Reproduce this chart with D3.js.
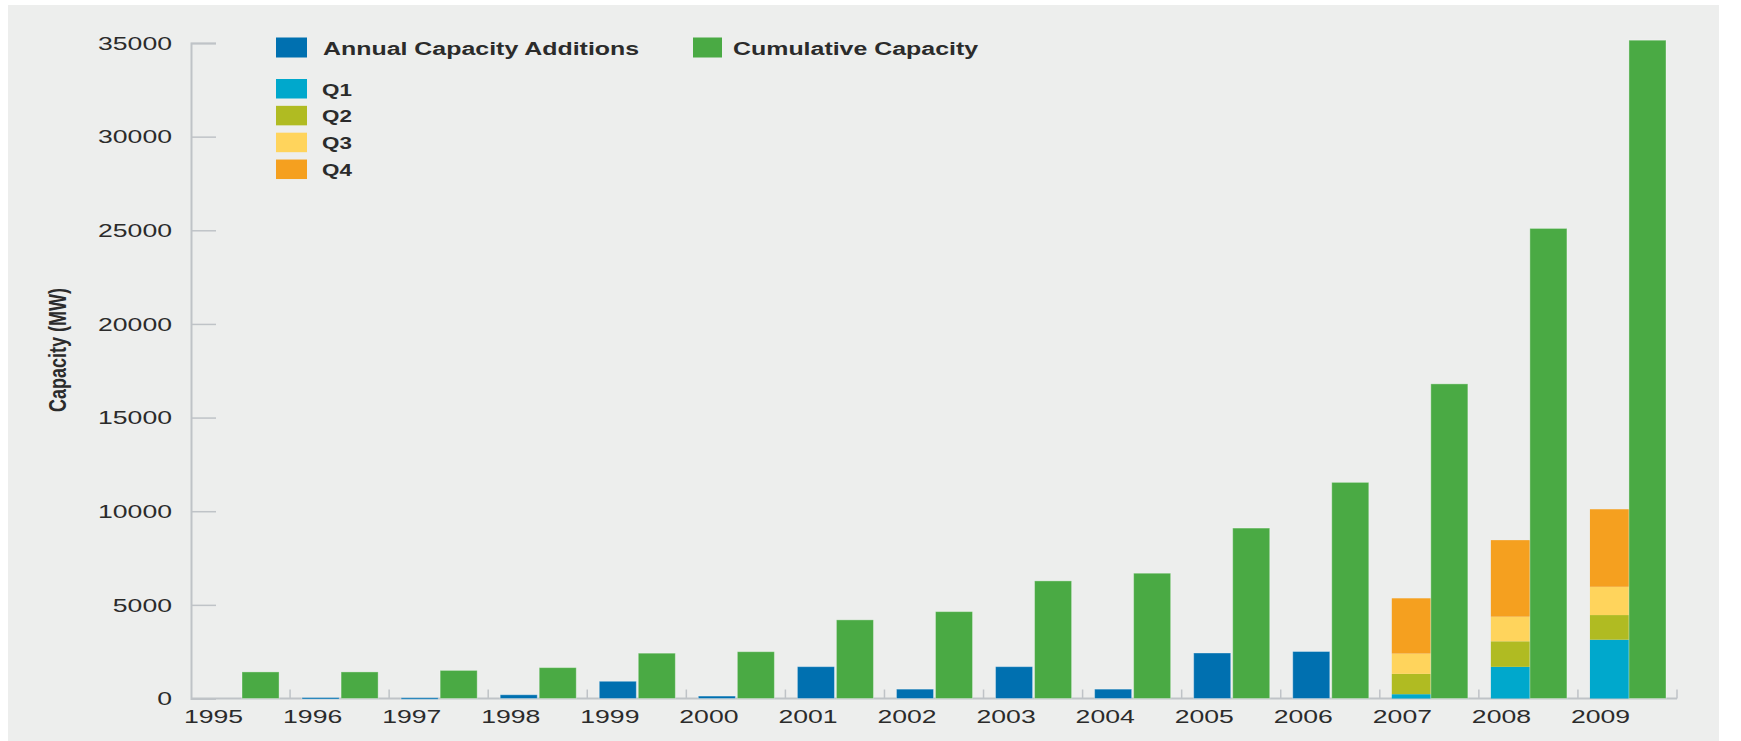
<!DOCTYPE html>
<html>
<head>
<meta charset="utf-8">
<script src="https://cdn.jsdelivr.net/npm/d3@7"></script>
<style>
  html, body { margin: 0; padding: 0; background: #ffffff; }
  svg { display: block; }
  text { font-family: "Liberation Sans", Arial, Helvetica, sans-serif; fill: #2b2b2b; }
</style>
</head>
<body>
<svg id="chart" width="1741" height="741"></svg>
<script>
// Installed wind capacity, MW
const years = ["1995","1996","1997","1998","1999","2000","2001","2002","2003","2004","2005","2006","2007","2008","2009"];
const cumulativeCapacity = [1420, 1420, 1500, 1650, 2420, 2500, 4200, 4640, 6280, 6690, 9100, 11540, 16800, 25100, 35150];
// Annual additions for years without a quarterly breakdown
const annualYears = ["1995","1996","1997","1998","1999","2000","2001","2002","2003","2004","2005","2006"];
const annualAdditions = [0, 50, 40, 200, 920, 130, 1700, 500, 1700, 500, 2430, 2510];
// Quarterly breakdown of additions
const quarterYears = ["2007","2008","2009"];
const quarterKeys = ["Q1","Q2","Q3","Q4"];
const q1 = [230, 1690, 3140];
const q2 = [1085, 1365, 1315];
const q3 = [1085, 1315, 1510];
const q4 = [2950, 4085, 4140];
const yTicks = [0, 5000, 10000, 15000, 20000, 25000, 30000, 35000];

const colors = {
  annual: "#0070b0",
  cumulative: "#4aaa44",
  Q1: "#00a8cc",
  Q2: "#b0bb22",
  Q3: "#ffd45c",
  Q4: "#f5a01f",
  axis: "#bfc3c7",
  panel: "#edeeed"
};

const svg = d3.select("#chart");

// panel background
svg.append("rect")
  .attr("x", 8).attr("y", 5).attr("width", 1711).attr("height", 736)
  .attr("fill", colors.panel);

const x0 = 191, x1 = 1677, yBase = 698.5, yTop = 43;

const x = d3.scaleBand().domain(years).range([x0, x1]).paddingInner(0).paddingOuter(0);
const bw = x.bandwidth();
const slot = d3.scaleBand().domain(["annual", "cumulative"]).range([12, bw - 11]).paddingInner(0.05);
const y = d3.scaleLinear().domain([0, 35000]).range([yBase, yTop]);

const TICK_SX = 1.4;   // wide lettering of the axis labels
const LEG_SX = 1.385;

// Y axis
const yAxis = d3.axisRight(y).tickValues(yTicks).tickSize(25).tickFormat("");
const gy = svg.append("g").attr("transform", `translate(${x0},0)`).call(yAxis);
gy.select(".domain").attr("stroke", colors.axis).attr("stroke-width", 2);
gy.selectAll(".tick line").attr("stroke", colors.axis).attr("stroke-width", 1.5);

svg.append("g").selectAll("text").data(yTicks).join("text")
  .attr("transform", d => `translate(172,${y(d)}) scale(${TICK_SX},1)`)
  .attr("dy", "0.35em")
  .attr("text-anchor", "end")
  .style("font-size", "19px")
  .text(d => d);

// X axis: short upward ticks at band boundaries
const boundaries = years.slice(1).map(d => x(d)).concat([x1]);
svg.append("line")
  .attr("x1", x0).attr("x2", x1).attr("y1", yBase).attr("y2", yBase)
  .attr("stroke", colors.axis).attr("stroke-width", 2);
svg.append("g").selectAll("line").data(boundaries).join("line")
  .attr("x1", d => d).attr("x2", d => d)
  .attr("y1", yBase).attr("y2", yBase - 9)
  .attr("stroke", colors.axis).attr("stroke-width", 1.5);

svg.append("g").selectAll("text").data(years).join("text")
  .attr("transform", d => `translate(${x(d) - 7},722.5) scale(${TICK_SX},1)`)
  .attr("text-anchor", "start")
  .style("font-size", "19px")
  .text(d => d);

// Bars
const bars = svg.append("g");
const edge = "rgba(255,255,255,0.35)";

// annual additions
bars.selectAll("rect.annual")
  .data(annualYears.map((yr, i) => ({ yr, v: annualAdditions[i] })).filter(d => d.v > 0))
  .join("rect").attr("class", "annual")
  .attr("x", d => x(d.yr) + slot("annual"))
  .attr("width", slot.bandwidth())
  .attr("y", d => y(d.v))
  .attr("height", d => Math.max(yBase - y(d.v), 1.5))
  .attr("fill", colors.annual)
  .attr("stroke", edge).attr("stroke-width", 1);

// quarterly stacks
const qRows = quarterYears.map((yr, i) => ({ yr, Q1: q1[i], Q2: q2[i], Q3: q3[i], Q4: q4[i] }));
const stacked = d3.stack().keys(quarterKeys)(qRows);
bars.selectAll("g.q").data(stacked).join("g").attr("class", "q")
  .attr("fill", s => colors[s.key])
  .selectAll("rect").data(s => s).join("rect")
  .attr("x", d => x(d.data.yr) + slot("annual"))
  .attr("width", slot.step())
  .attr("y", d => y(d[1]))
  .attr("height", d => y(d[0]) - y(d[1]));

// cumulative capacity
bars.selectAll("rect.cum")
  .data(years.map((yr, i) => ({ yr, v: cumulativeCapacity[i] })))
  .join("rect").attr("class", "cum")
  .attr("x", d => x(d.yr) + slot("cumulative"))
  .attr("width", slot.bandwidth())
  .attr("y", d => y(d.v))
  .attr("height", d => yBase - y(d.v))
  .attr("fill", colors.cumulative)
  .attr("stroke", edge).attr("stroke-width", 1);

// Y axis title
svg.append("text")
  .attr("transform", `translate(66,350) scale(1.35,1) rotate(-90)`)
  .attr("text-anchor", "middle")
  .style("font-size", "18px")
  .style("font-weight", "bold")
  .text("Capacity (MW)");

// Legend
const legend = svg.append("g");
const mainItems = [
  { label: "Annual Capacity Additions", color: colors.annual, sx: 276, sw: 31, tx: 323 },
  { label: "Cumulative Capacity", color: colors.cumulative, sx: 693, sw: 29, tx: 733 }
];
mainItems.forEach(it => {
  legend.append("rect").attr("x", it.sx).attr("y", 37.5).attr("width", it.sw).attr("height", 20)
    .attr("fill", it.color);
  legend.append("text")
    .attr("transform", `translate(${it.tx},54.5) scale(${LEG_SX},1)`)
    .style("font-size", "18px").style("font-weight", "bold")
    .text(it.label);
});

const qy = d3.scaleBand().domain(quarterKeys).range([79, 181]).paddingInner(0.2);
quarterKeys.forEach(k => {
  legend.append("rect").attr("x", 276).attr("y", qy(k)).attr("width", 31).attr("height", 19.5)
    .attr("fill", colors[k]);
  legend.append("text")
    .attr("transform", `translate(322,${qy(k) + 16.5}) scale(1.4,1)`)
    .style("font-size", "16px").style("font-weight", "bold")
    .text(k);
});
</script>
</body>
</html>
